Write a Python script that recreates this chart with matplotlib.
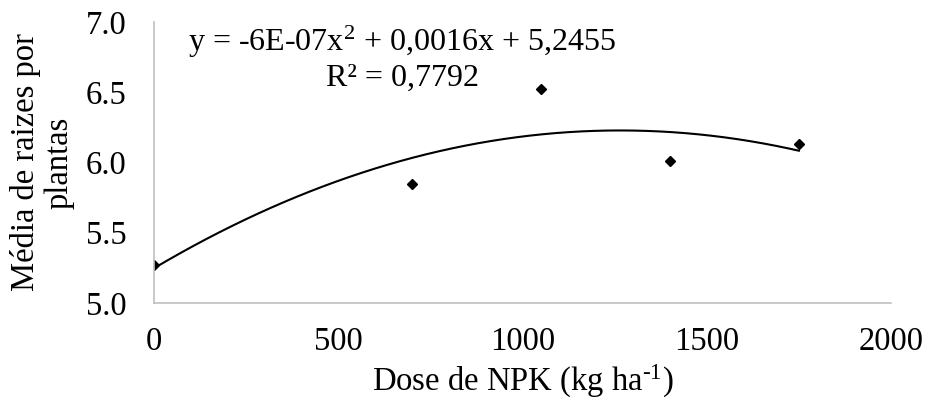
import matplotlib.pyplot as plt
import numpy as np

plt.rcParams['font.family'] = ['Liberation Serif', 'DejaVu Serif']
plt.rcParams['mathtext.fontset'] = 'custom'
plt.rcParams['mathtext.rm'] = 'Liberation Serif'
plt.rcParams['mathtext.it'] = 'Liberation Serif:italic'

# dados
dose = [0, 700, 1050, 1400, 1750]
raizes = [5.27, 5.85, 6.52, 6.01, 6.13]
xticks = [0, 500, 1000, 1500, 2000]
yticks = [5.0, 5.5, 6.0, 6.5, 7.0]

fig = plt.figure(figsize=(9.27, 4.08), dpi=100)
ax = fig.add_axes([0.1661, 0.2574, 0.7951, 0.6887])

# linha de tendencia polinomial (ordem 2)
coef = np.polyfit(dose, raizes, 2)
xs = np.linspace(min(dose), max(dose), 200)
ax.plot(xs, np.polyval(coef, xs), color='black', lw=1.5)
ax.plot(dose, raizes, 'D', color='black', markersize=5)

ax.set_xlim(0, 2000)
ax.set_ylim(5.0, 7.0)
ax.set_xticks(xticks)
ax.set_yticks(yticks)
ax.set_yticklabels(['%.1f' % v for v in yticks])
ax.tick_params(length=0, labelsize=23.5)
ax.tick_params(axis='x', pad=17)
ax.tick_params(axis='y', pad=20)

for s in ['top', 'right']:
    ax.spines[s].set_visible(False)
for s in ['left', 'bottom']:
    ax.spines[s].set_color('#BFBFBF')
    ax.spines[s].set_linewidth(1.2)

ax.set_xlabel('Dose de NPK (kg ha$^{\\text{-1}}$)', fontsize=23.5, labelpad=4)
ax.set_ylabel('Média de raizes por\nplantas', fontsize=23.5, labelpad=8, linespacing=1.1)

ax.text(0.337, 0.87, 'y = -6E-07x$^{2}$ + 0,0016x + 5,2455\nR² = 0,7792',
        transform=ax.transAxes, ha='center', va='center', fontsize=23,
        multialignment='center', linespacing=1.2)

fig.savefig('out.png', dpi=100)
